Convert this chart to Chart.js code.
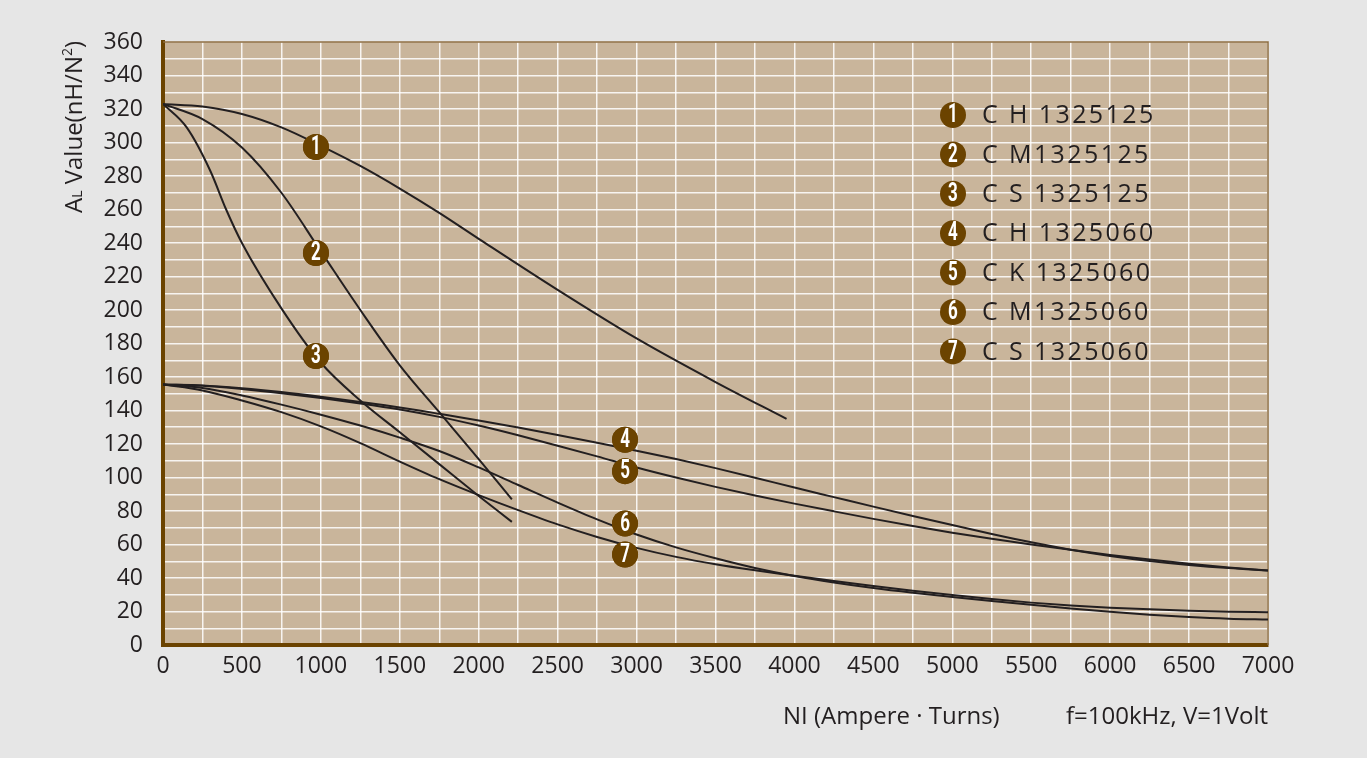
<!DOCTYPE html>
<html>
<head>
<meta charset="utf-8">
<script src="https://cdn.jsdelivr.net/npm/chart.js@4/dist/chart.umd.min.js"></script>
<style>
  html, body { margin: 0; padding: 0; background: #e6e6e6; }
  #wrap { width: 1367px; height: 758px; }
</style>
</head>
<body>
<div id="wrap"><canvas id="chart" width="1367" height="758"></canvas></div>
<script>
// NI (Ampere-Turns) sample positions and AL values (nH/N^2)
const niGrid = [0, 250, 500, 750, 1000, 1250, 1500, 1750, 2000, 2250, 2500, 2750, 3000, 3250, 3500,
  3750, 4000, 4250, 4500, 4750, 5000, 5250, 5500, 5750, 6000, 6250, 6500, 6750, 7000];

const ch1325125NI = [0, 250, 500, 750, 1000, 1250, 1500, 1750, 2000, 2500, 3000, 3500, 3950];
const ch1325125AL = [323, 321.5, 317, 309, 298, 286, 272.5, 258, 242.5, 212, 183, 157, 135];

const cm1325125NI = [0, 250, 500, 750, 1000, 1250, 1500, 1750, 2000, 2210];
const cm1325125AL = [323, 314, 297, 270, 235, 200, 167, 139, 111, 87];

const cs1325125NI = [0, 150, 300, 400, 500, 750, 1000, 1250, 1500, 1750, 2000, 2210];
const cs1325125AL = [323, 309, 283, 260, 240, 201, 168.5, 146, 127, 108, 89, 73.5];

const ch1325060AL = [155.5, 155, 153.3, 151, 148.2, 145.1, 141.8, 138, 134, 129.8, 125.4, 120.8, 116, 111, 105.6,
  99.9, 94, 88.3, 82.6, 77, 71.6, 66.3, 61.3, 56.9, 53.2, 50.2, 47.8, 45.9, 44.5];
const ck1325060AL = [155.5, 154.8, 152.8, 150.3, 147.4, 144.2, 140.6, 136.2, 131, 125.2, 119, 112.6, 106, 100, 94.4,
  89.2, 84.4, 79.8, 75.3, 71, 67, 63.4, 60, 56.8, 53.8, 51, 48.5, 46.3, 44.5];
const cm1325060AL = [155.5, 153.5, 149, 143.5, 137.5, 131, 123.8, 115.8, 106, 95.5, 85, 75, 66, 58.3, 51.8,
  46, 41.2, 37.3, 34, 31.2, 28.7, 26.3, 24, 21.8, 19.8, 18.1, 16.7, 15.7, 15.2];
const cs1325060AL = [155.5, 152, 146, 139, 130.5, 120.5, 109.5, 99, 89.5, 80.5, 72, 64.5, 58, 52.6, 48.2,
  44.6, 41.4, 38.2, 35.2, 32.4, 29.8, 27.4, 25.3, 23.6, 22.3, 21.3, 20.5, 19.9, 19.5];

// numbered tags on the curves
const tagNo = [1, 2, 3, 4, 5, 6, 7];
const tagNI = [969, 969, 969, 2927, 2927, 2927, 2927];
const tagAL = [297.3, 234, 172.5, 122.5, 103.8, 72.5, 54];

const legendNames = ['C H 1325125', 'C M1325125', 'C S 1325125', 'C H 1325060', 'C K 1325060', 'C M1325060', 'C S 1325060'];

const BROWN = '#6b4300';
const INK = '#231f20';
const FONT = '"Open Sans", "Noto Sans", sans-serif';

function pts(xs, ys) {
  return xs.map((x, i) => ({ x: x, y: ys[i] }));
}

function curve(xs, ys) {
  return {
    data: pts(xs, ys),
    showLine: true,
    borderColor: INK,
    borderWidth: 2,
    pointRadius: 0,
    cubicInterpolationMode: 'monotone',
    order: 1,
  };
}

const frame = {
  id: 'frame',
  beforeDraw(chart) {
    const { ctx, chartArea: a } = chart;
    ctx.save();
    ctx.fillStyle = '#c9b59b';
    ctx.fillRect(a.left, a.top, a.right - a.left, a.bottom - a.top);
    ctx.restore();
  },
  beforeDatasetsDraw(chart) {
    const { ctx, chartArea: a } = chart;
    ctx.save();
    ctx.strokeStyle = '#8a6a3c';
    ctx.lineWidth = 1.5;
    ctx.beginPath();
    ctx.moveTo(a.left, a.top);
    ctx.lineTo(a.right, a.top);
    ctx.lineTo(a.right, a.bottom);
    ctx.stroke();
    ctx.restore();
  },
};

function badge(ctx, x, y, n) {
  ctx.save();
  ctx.fillStyle = BROWN;
  ctx.beginPath();
  ctx.arc(x, y, 13, 0, Math.PI * 2);
  ctx.fill();
  ctx.translate(x, y + 1);
  ctx.scale(0.68, 1);
  ctx.fillStyle = '#ffffff';
  ctx.font = 'bold 25px Roboto, sans-serif';
  ctx.textAlign = 'center';
  ctx.textBaseline = 'middle';
  ctx.fillText(String(n), 0, 0);
  ctx.restore();
}

const labels = {
  id: 'labels',
  afterDatasetsDraw(chart) {
    const ctx = chart.ctx;
    const meta = chart.getDatasetMeta(0);
    meta.data.forEach((p, i) => badge(ctx, p.x, p.y, tagNo[i]));

    // legend
    legendNames.forEach((name, i) => {
      const y = 115 + i * 39.4;
      badge(ctx, 953, y, tagNo[i]);
      ctx.save();
      ctx.fillStyle = INK;
      ctx.font = '25px ' + FONT;
      ctx.letterSpacing = '2.4px';
      ctx.textAlign = 'left';
      ctx.textBaseline = 'middle';
      ctx.fillText(name, 982, y + 1);
      ctx.restore();
    });
  },
  afterDraw(chart) {
    const ctx = chart.ctx;
    // y axis title: A(L) Value(nH/N2)
    ctx.save();
    ctx.translate(82, 213);
    ctx.rotate(-Math.PI / 2);
    ctx.fillStyle = INK;
    ctx.textBaseline = 'alphabetic';
    ctx.textAlign = 'left';
    let x = 0;
    const parts = [['A', 24, 0], ['L', 14, 0], [' Value(nH/N', 24, 0], ['2', 14, -10], [')', 24, 0]];
    parts.forEach(([t, s, dy]) => {
      ctx.font = s + 'px ' + FONT;
      ctx.fillText(t, x, dy);
      x += ctx.measureText(t).width;
    });
    ctx.restore();

    ctx.save();
    ctx.fillStyle = INK;
    ctx.font = '24px ' + FONT;
    ctx.textBaseline = 'middle';
    ctx.textAlign = 'left';
    ctx.fillText('NI (Ampere \u00b7 Turns)', 783, 717);
    ctx.textAlign = 'right';
    ctx.fillText('f=100kHz, V=1Volt', 1268, 717);
    ctx.restore();
  },
};

new Chart(document.getElementById('chart'), {
  type: 'scatter',
  data: {
    datasets: [
      {
        data: pts(tagNI, tagAL),
        pointRadius: 13,
        pointHoverRadius: 13,
        pointBackgroundColor: BROWN,
        pointBorderWidth: 0,
        showLine: false,
        order: 0,
      },
      curve(ch1325125NI, ch1325125AL),
      curve(cm1325125NI, cm1325125AL),
      curve(cs1325125NI, cs1325125AL),
      curve(niGrid, ch1325060AL),
      curve(niGrid, ck1325060AL),
      curve(niGrid, cm1325060AL),
      curve(niGrid, cs1325060AL),
    ],
  },
  options: {
    responsive: false,
    animation: false,
    devicePixelRatio: 1,
    layout: { padding: { left: 0, top: 42, right: 99, bottom: 0 } },
    plugins: { legend: { display: false }, tooltip: { enabled: false } },
    scales: {
      x: {
        type: 'linear',
        min: 0,
        max: 7000,
        afterFit: (s) => { s.height = 113; },
        ticks: {
          stepSize: 250,
          autoSkip: false,
          maxRotation: 0,
          padding: 8,
          color: INK,
          font: { family: FONT, size: 23 },
          callback: (v) => (v % 500 === 0 ? String(v) : ''),
        },
        grid: { color: 'rgba(255,255,255,0.85)', lineWidth: 1.5, drawTicks: false },
        border: { color: BROWN, width: 4 },
      },
      y: {
        min: 0,
        max: 360,
        afterFit: (s) => { s.width = 163; },
        ticks: {
          stepSize: 10,
          autoSkip: false,
          padding: 20,
          color: INK,
          font: { family: FONT, size: 23 },
          callback: (v) => (v % 20 === 0 ? String(v) : ''),
        },
        grid: { color: 'rgba(255,255,255,0.85)', lineWidth: 1.5, drawTicks: false },
        border: { color: BROWN, width: 4 },
      },
    },
  },
  plugins: [frame, labels],
});
</script>
</body>
</html>
